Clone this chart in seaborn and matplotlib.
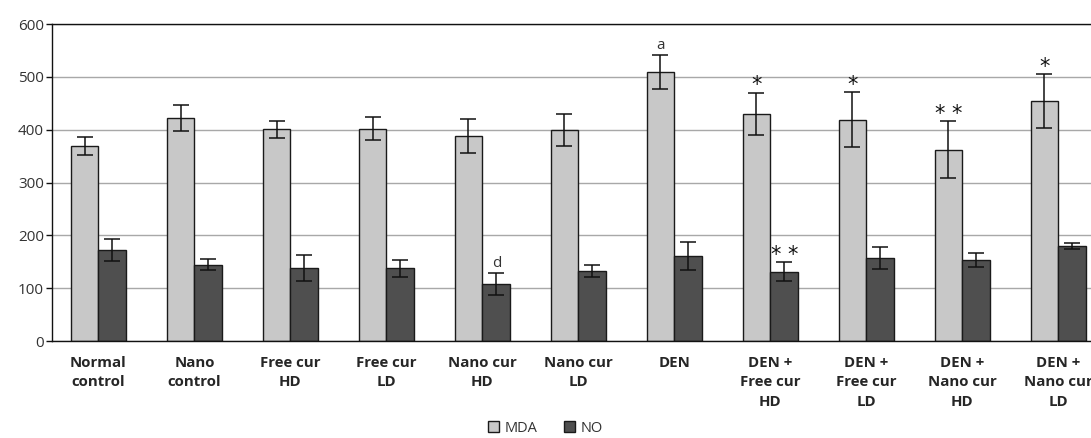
import numpy as np
import pandas as pd
import seaborn as sns
import matplotlib.pyplot as plt

# Data
groups = ['Normal\ncontrol', 'Nano\ncontrol', 'Free cur\nHD', 'Free cur\nLD', 'Nano cur\nHD',
          'Nano cur\nLD', 'DEN', 'DEN +\nFree cur\nHD', 'DEN +\nFree cur\nLD',
          'DEN +\nNano cur\nHD', 'DEN +\nNano cur\nLD']
mda = [370, 422, 401, 402, 389, 400, 510, 430, 419, 362, 454]
mda_err = [17, 24, 16, 22, 32, 30, 32, 40, 52, 54, 51]
no = [172, 145, 139, 138, 108, 133, 161, 131, 157, 154, 180]
no_err = [21, 10, 25, 16, 21, 12, 26, 18, 21, 13, 6]
mda_marks = ['', '', '', '', '', '', 'a', '*', '*', '* *', '*']
no_marks = ['', '', '', '', 'd', '', '', '* *', '', '', '']

df = pd.DataFrame({
    'group': groups * 2,
    'value': mda + no,
    'marker': ['MDA'] * len(groups) + ['NO'] * len(groups),
})

sns.set_style('white')
plt.rcParams['font.family'] = ['Open Sans', 'DejaVu Sans']

fig, ax = plt.subplots(figsize=(10.91, 4.38), dpi=100)
fig.subplots_adjust(left=0.048, right=1.0, top=0.945, bottom=0.221)

sns.barplot(data=df, x='group', y='value', hue='marker', order=groups,
            palette={'MDA': '#c8c8c8', 'NO': '#4f4f4f'}, width=0.58,
            edgecolor='#1a1a1a', linewidth=1.0, saturation=1, errorbar=None, ax=ax)

# error bars and significance marks, placed at each bar's centre
for cont, vals, errs, marks in zip(ax.containers, [mda, no], [mda_err, no_err],
                                   [mda_marks, no_marks]):
    xs = [p.get_x() + p.get_width() / 2 for p in cont.patches]
    ax.errorbar(xs, vals, yerr=errs, fmt='none', ecolor='#111111',
                elinewidth=1.1, capsize=6, capthick=1.1, zorder=5)
    for x, v, e, m in zip(xs, vals, errs, marks):
        if not m:
            continue
        if '*' in m:
            ax.text(x, v + e - 5, m, ha='center', va='bottom', fontsize=15,
                    family=['DejaVu Sans'], color='#111111')
        else:
            ax.text(x, v + e + 3, m, ha='center', va='bottom', fontsize=11,
                    color='#333333')

ax.set_ylim(0, 600)
ax.set_yticks(range(0, 601, 100))
ax.set_xlim(-0.48, 10.34)
ax.yaxis.grid(True, color='#a8a8a8', linewidth=1.0)
ax.set_axisbelow(True)
for s in ['left', 'bottom', 'top']:
    ax.spines[s].set_color('#111111')
    ax.spines[s].set_linewidth(1.0)
ax.spines['right'].set_visible(False)
ax.tick_params(axis='y', left=True, length=4, width=1, color='#111111',
               labelsize=11, labelcolor='#333333', pad=2)
ax.tick_params(axis='x', bottom=False, labelsize=10.8, pad=7)
for lbl in ax.get_xticklabels():
    lbl.set_fontweight('bold')
    lbl.set_linespacing(1.5)
ax.set_xlabel('')
ax.set_ylabel('')

handles, labels = ax.get_legend_handles_labels()
ax.get_legend().remove()
fig.legend(handles, labels, loc='center', bbox_to_anchor=(0.5, 0.022),
           ncol=2, frameon=False, fontsize=10.5, handlelength=0.75, handleheight=0.75,
           columnspacing=1.8, handletextpad=0.4, labelcolor='#333333')

plt.savefig('out.png', dpi=100)
